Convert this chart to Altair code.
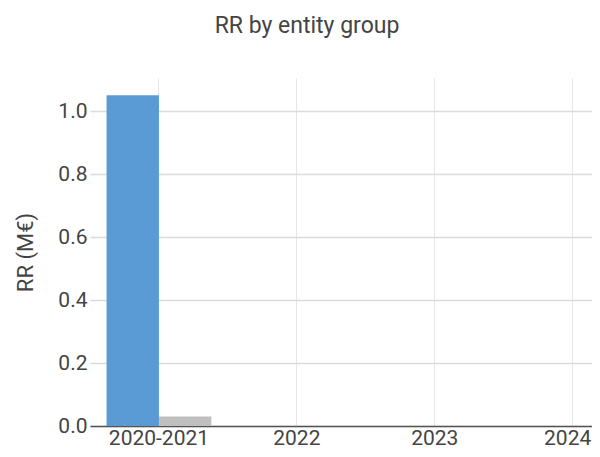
import altair as alt
import pandas as pd

periods = ["2020-2021", "2022", "2023", "2024"]
groups = ["Group A", "Group B"]
group_a = [1.05, 0.0, 0.0, 0.0]
group_b = [0.03, 0.0, 0.0, 0.0]
colors = ["#5b9bd5", "#bfbfbf"]
y_ticks = [0.0, 0.2, 0.4, 0.6, 0.8, 1.0]

rows = []
for i, p in enumerate(periods):
    rows.append({"period": p, "group": groups[0], "rr": group_a[i]})
    rows.append({"period": p, "group": groups[1], "rr": group_b[i]})
df = pd.DataFrame(rows)

FONT = "Roboto"
TXT = "#444444"

chart = alt.Chart(df).mark_bar().encode(
    x=alt.X(
        "period:N", sort=periods, title=None,
        scale=alt.Scale(range=[0, 551.6], paddingInner=0.24, paddingOuter=0.12),
        axis=alt.Axis(labelAngle=0, ticks=False, labelPadding=1, grid=True,
                      gridColor="#e6e6e6", gridWidth=1, domainColor="#555555",
                      domainWidth=1.5, bandPosition=0.5, labelFont=FONT,
                      labelFontSize=21, labelColor=TXT,
                      labelOffset=alt.expr("datum.value == '2024' ? -5 : 0")),
    ),
    xOffset=alt.XOffset("group:N", sort=groups),
    y=alt.Y(
        "rr:Q", title="RR (M€)",
        scale=alt.Scale(domain=[0, 1.105], nice=False),
        axis=alt.Axis(values=y_ticks, format=".1f", ticks=False, domain=False,
                      labelPadding=3, gridColor="#dcdcdc", gridWidth=1.5,
                      labelFont=FONT, labelFontSize=21, labelColor=TXT,
                      titleFont=FONT, titleFontSize=22, titleFontWeight="normal",
                      titleColor=TXT, titlePadding=20),
    ),
    color=alt.Color("group:N", scale=alt.Scale(domain=groups, range=colors), legend=None),
).properties(
    width=502,
    height=348,
    title=alt.TitleParams(text="RR by entity group", font=FONT, fontSize=23,
                          fontWeight="normal", color=TXT, anchor="middle",
                          frame="group", dx=-34, offset=22, baseline="alphabetic"),
    autosize=alt.AutoSizeParams(type="none"),
    padding={"left": 82, "top": 70, "right": 0, "bottom": 23},
).configure_view(stroke=None)

chart.save("out.html", embed_options={"renderer": "svg", "actions": False})
